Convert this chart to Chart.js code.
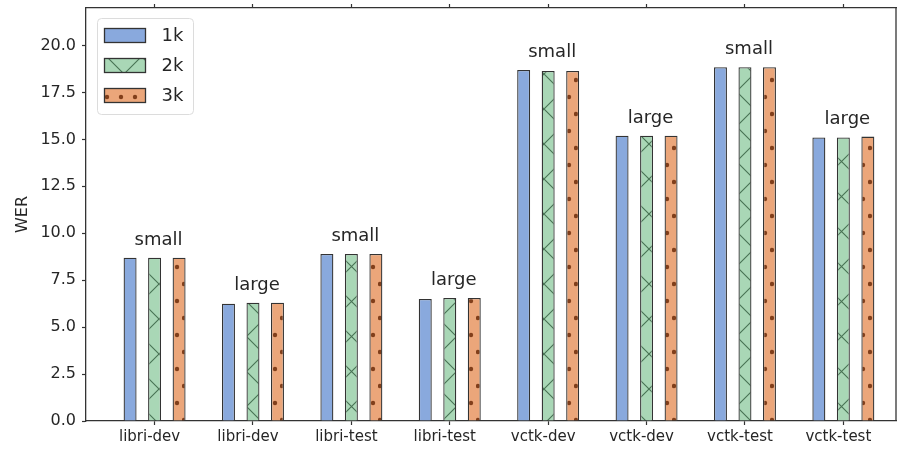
<!DOCTYPE html>
<html>
<head>
<meta charset="utf-8">
<script src="https://cdn.jsdelivr.net/npm/chart.js@4.4.1/dist/chart.umd.min.js"></script>
<style>
  html, body { margin: 0; padding: 0; background: #fff; }
</style>
</head>
<body>
<canvas id="werChart" width="902" height="451"></canvas>
<script>
const categories = ["libri-dev", "libri-dev", "libri-test", "libri-test", "vctk-dev", "vctk-dev", "vctk-test", "vctk-test"];
const sizes = ["small", "large", "small", "large", "small", "large", "small", "large"];
const series = ["1k", "2k", "3k"];
const wer1k = [8.7, 6.25, 8.9, 6.5, 18.7, 15.2, 18.85, 15.1];
const wer2k = [8.7, 6.3, 8.9, 6.55, 18.65, 15.2, 18.85, 15.1];
const wer3k = [8.7, 6.3, 8.9, 6.55, 18.65, 15.2, 18.85, 15.15];
const yTicks = [0, 2.5, 5, 7.5, 10, 12.5, 15, 17.5, 20];

const FONT = "'DejaVu Sans', sans-serif";
const TEXT = "#262626";
const EDGE = "#333";

// hatch patterns drawn over the face colour, like matplotlib's hatches
function makePattern(face, kind) {
  const c = document.createElement("canvas");
  const g = c.getContext("2d");
  if (kind === "x") {
    c.width = 35; c.height = 35;
    g.fillStyle = face;
    g.fillRect(0, 0, 35, 35);
    g.strokeStyle = "rgba(20,60,30,0.65)";
    g.lineWidth = 1.1;
    g.beginPath();
    for (let k = -2; k <= 2; k++) {
      g.moveTo(-5, -5 + 20 + 35 * k); g.lineTo(40, 40 + 20 + 35 * k);
      g.moveTo(-5, 5 + 23 + 35 * k); g.lineTo(40, -40 + 23 + 35 * k);
    }
    g.stroke();
  } else if (kind === "dot") {
    c.width = 14; c.height = 34;
    g.fillStyle = face;
    g.fillRect(0, 0, 14, 34);
    g.fillStyle = "rgba(110,45,10,0.85)";
    [[9, 29], [2, 12]].forEach(([x, y]) => {
      g.beginPath(); g.arc(x, y, 2.2, 0, Math.PI * 2); g.fill();
    });
  } else {
    return face;
  }
  return g.createPattern(c, "repeat");
}

const fills = [
  makePattern("#89a9dd", "none"),
  makePattern("#a9d7b6", "x"),
  makePattern("#eba67a", "dot")
];

const sizeLabels = {
  id: "sizeLabels",
  afterDatasetsDraw(chart) {
    const { ctx, scales } = chart;
    ctx.save();
    ctx.font = "18px " + FONT;
    ctx.fillStyle = TEXT;
    ctx.textAlign = "center";
    ctx.textBaseline = "alphabetic";
    sizes.forEach((s, i) => {
      const top = Math.max(wer1k[i], wer2k[i], wer3k[i]);
      ctx.fillText(s, scales.x.getPixelForValue(i) + 4, scales.y.getPixelForValue(top) - 13);
    });
    ctx.restore();
  }
};

const boxLegend = {
  id: "boxLegend",
  afterDraw(chart) {
    const ctx = chart.ctx;
    const x0 = chart.chartArea.left + 11.5, y0 = chart.chartArea.top + 10.5;
    ctx.save();
    ctx.beginPath();
    ctx.roundRect(x0, y0, 96, 96, 4);
    ctx.fillStyle = "rgba(255,255,255,0.8)";
    ctx.fill();
    ctx.strokeStyle = "#dcdcdc";
    ctx.lineWidth = 1;
    ctx.stroke();
    chart.data.datasets.forEach((ds, i) => {
      const ry = y0 + 10 + i * 30;
      ctx.fillStyle = ds.backgroundColor;
      ctx.fillRect(x0 + 7, ry, 41, 14);
      ctx.strokeStyle = EDGE;
      ctx.lineWidth = 1.3;
      ctx.strokeRect(x0 + 7, ry, 41, 14);
      ctx.fillStyle = TEXT;
      ctx.font = "18px " + FONT;
      ctx.textBaseline = "middle";
      ctx.textAlign = "left";
      ctx.fillText(ds.label, x0 + 64, ry + 7.5);
    });
    ctx.restore();
  }
};

const frameRight = {
  id: "frameRight",
  afterDraw(chart) {
    const { ctx, chartArea } = chart;
    ctx.save();
    ctx.strokeStyle = EDGE;
    ctx.lineWidth = 1.3;
    ctx.beginPath();
    ctx.moveTo(chartArea.right, chartArea.top);
    ctx.lineTo(chartArea.right, chartArea.bottom);
    ctx.stroke();
    ctx.restore();
  }
};

const catTicks = (scale) => { scale.ticks = categories.map((_, i) => ({ value: i })); };
const noPad = (s) => { s.paddingLeft = 0; s.paddingRight = 0; s.paddingTop = 0; s.paddingBottom = 0; };

new Chart(document.getElementById("werChart"), {
  type: "bar",
  data: {
    labels: categories.map((_, i) => i),
    datasets: [wer1k, wer2k, wer3k].map((d, k) => ({
      label: series[k],
      data: d,
      backgroundColor: fills[k],
      borderColor: EDGE,
      borderWidth: 1.3,
      categoryPercentage: 0.747,
      barPercentage: 0.53
    }))
  },
  options: {
    responsive: false,
    animation: false,
    devicePixelRatio: 1,
    layout: { padding: { left: 0, right: 6, top: 0, bottom: 0 } },
    plugins: { legend: { display: false }, tooltip: { enabled: false } },
    scales: {
      x: {
        type: "linear",
        position: "bottom",
        offset: false,
        min: -0.697,
        max: 7.535,
        afterBuildTicks: catTicks,
        afterFit: (s) => { s.height = 30; noPad(s); },
        ticks: {
          callback: (v) => categories[v],
          autoSkip: false,
          maxRotation: 0,
          padding: 3,
          labelOffset: -5,
          color: TEXT,
          font: { family: FONT, size: 15 }
        },
        grid: { offset: false, drawOnChartArea: false, drawTicks: true, tickLength: 4, tickWidth: 1.2, tickColor: EDGE },
        border: { display: true, color: EDGE, width: 1.3 }
      },
      xTop: {
        type: "linear",
        position: "top",
        offset: false,
        min: -0.697,
        max: 7.535,
        afterBuildTicks: catTicks,
        afterFit: (s) => { s.height = 8; noPad(s); },
        ticks: { display: false },
        grid: { offset: false, drawOnChartArea: false, drawTicks: true, tickLength: 4, tickWidth: 1.2, tickColor: EDGE },
        border: { display: true, color: EDGE, width: 1.3 }
      },
      y: {
        min: 0,
        max: 22,
        afterBuildTicks: (scale) => { scale.ticks = yTicks.map((v) => ({ value: v })); },
        afterFit: (s) => { s.width = 86; noPad(s); },
        ticks: {
          callback: (v) => v.toFixed(1),
          padding: 6,
          color: TEXT,
          font: { family: FONT, size: 16 }
        },
        title: {
          display: true,
          text: "WER",
          color: TEXT,
          font: { family: FONT, size: 16 },
          padding: { top: 13, bottom: 0 }
        },
        grid: { drawOnChartArea: false, drawTicks: true, tickLength: 4, tickWidth: 1.2, tickColor: EDGE },
        border: { display: true, color: EDGE, width: 1.3 }
      }
    }
  },
  plugins: [sizeLabels, boxLegend, frameRight]
});
</script>
</body>
</html>
